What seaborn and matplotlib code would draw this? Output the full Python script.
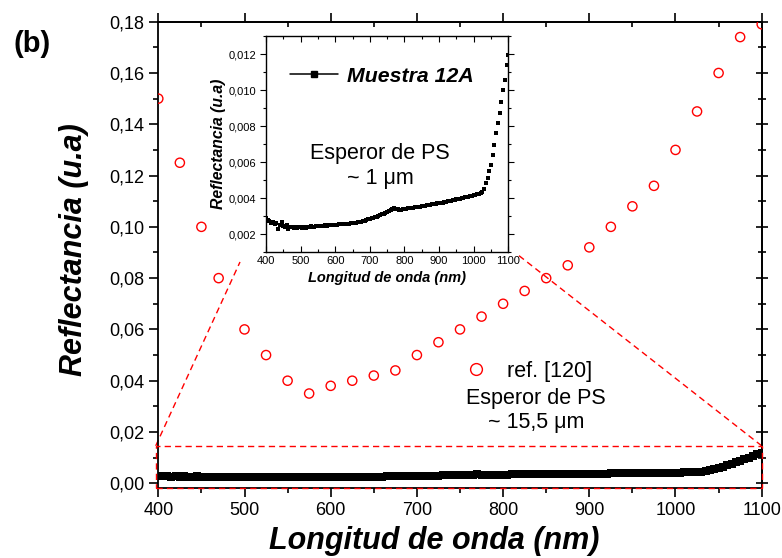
import numpy as np
import pandas as pd
import seaborn as sns
import matplotlib
matplotlib.use("Agg")
import matplotlib.pyplot as plt
from matplotlib.ticker import MultipleLocator, FuncFormatter
from matplotlib.lines import Line2D
from matplotlib.patches import Rectangle

# Reference spectrum, ref. [120] (PS thickness ~15.5 um)
ref_wavelength = [400, 425, 450, 470, 500, 525, 550, 575, 600, 625, 650, 675, 700, 725,
                  750, 775, 800, 825, 850, 875, 900, 925, 950, 975, 1000, 1025, 1050,
                  1075, 1100]
ref_reflectance = [0.150, 0.125, 0.100, 0.080, 0.060, 0.050, 0.040, 0.035, 0.038, 0.040,
                   0.042, 0.044, 0.050, 0.055, 0.060, 0.065, 0.070, 0.075, 0.080, 0.085,
                   0.092, 0.100, 0.108, 0.116, 0.130, 0.145, 0.160, 0.174, 0.179]

# Sample 12A spectrum (PS thickness ~1 um), 5 nm steps
sample_wavelength = list(range(400, 1101, 5))
sample_reflectance = [
    0.00290, 0.00280, 0.00272, 0.00262, 0.00270, 0.00255, 0.00265, 0.00232, 0.00250, 0.00268,
    0.00245, 0.00240, 0.00252, 0.00232, 0.00242, 0.00238, 0.00235, 0.00242, 0.00236, 0.00240,
    0.00238, 0.00235, 0.00240, 0.00237, 0.00241, 0.00240, 0.00244, 0.00242, 0.00243, 0.00245,
    0.00244, 0.00247, 0.00245, 0.00247, 0.00249, 0.00248, 0.00250, 0.00251, 0.00250, 0.00252,
    0.00253, 0.00252, 0.00255, 0.00256, 0.00255, 0.00257, 0.00258, 0.00258, 0.00259, 0.00260,
    0.00261, 0.00263, 0.00264, 0.00266, 0.00268, 0.00270, 0.00273, 0.00276, 0.00279, 0.00282,
    0.00285, 0.00288, 0.00292, 0.00295, 0.00298, 0.00302, 0.00306, 0.00310, 0.00314, 0.00318,
    0.00322, 0.00327, 0.00334, 0.00342, 0.00345, 0.00342, 0.00338, 0.00336, 0.00337, 0.00339,
    0.00340, 0.00342, 0.00343, 0.00345, 0.00346, 0.00347, 0.00349, 0.00350, 0.00352, 0.00354,
    0.00355, 0.00357, 0.00359, 0.00360, 0.00362, 0.00364, 0.00366, 0.00367, 0.00369, 0.00371,
    0.00372, 0.00374, 0.00376, 0.00378, 0.00380, 0.00382, 0.00385, 0.00387, 0.00389, 0.00391,
    0.00393, 0.00396, 0.00398, 0.00400, 0.00402, 0.00405, 0.00407, 0.00409, 0.00411, 0.00413,
    0.00416, 0.00418, 0.00421, 0.00424, 0.00428, 0.00434, 0.00449, 0.00486, 0.00513, 0.00550,
    0.00587, 0.00642, 0.00697, 0.00762, 0.00817, 0.00872, 0.00936, 0.01001, 0.01056, 0.01139,
    0.01194,
]

ref_df = pd.DataFrame({"wl": ref_wavelength, "R": ref_reflectance})
sample_df = pd.DataFrame({"wl": sample_wavelength, "R": sample_reflectance})

sns.set_style("ticks")
plt.rcParams["font.family"] = ["Liberation Sans", "DejaVu Sans"]
for key in ("text.color", "axes.labelcolor", "xtick.color", "ytick.color", "axes.edgecolor"):
    plt.rcParams[key] = "black"

comma2 = FuncFormatter(lambda v, _: f"{v:.2f}".replace(".", ","))
comma3 = FuncFormatter(lambda v, _: f"{v:.3f}".replace(".", ","))
intfmt = FuncFormatter(lambda v, _: f"{v:.0f}")

W, H = 782, 558
fig = plt.figure(figsize=(W / 100, H / 100), dpi=100)

# ---------------- main axes ----------------
ax = fig.add_axes([158.3 / W, 1 - 488.4 / H, 603.4 / W, (488.4 - 21.7) / H])
sns.scatterplot(data=ref_df, x="wl", y="R", ax=ax, marker="o", s=44,
                facecolor="none", edgecolor="red", linewidth=1.0, zorder=3)
sns.scatterplot(data=sample_df, x="wl", y="R", ax=ax, marker="s", s=32,
                color="black", linewidth=0, zorder=4)
ax.set_xlim(400, 1100)
ax.set_ylim(-0.002, 0.18)
ax.set_xlabel("")
ax.set_ylabel("")
ax.xaxis.set_major_locator(MultipleLocator(100))
ax.xaxis.set_minor_locator(MultipleLocator(50))
ax.yaxis.set_major_locator(MultipleLocator(0.02))
ax.yaxis.set_minor_locator(MultipleLocator(0.01))
ax.xaxis.set_major_formatter(intfmt)
ax.yaxis.set_major_formatter(comma2)
for s in ax.spines.values():
    s.set_linewidth(1.3)
    s.set_visible(True)
ax.tick_params(which="major", direction="out", length=6.5, width=1.2,
               labelsize=13, pad=3.5, colors="black")
ax.tick_params(which="minor", direction="out", length=3.5, width=1.2)

top = ax.secondary_xaxis("top")
top.xaxis.set_major_locator(MultipleLocator(100))
top.xaxis.set_minor_locator(MultipleLocator(50))
top.tick_params(which="major", direction="out", length=6.5, width=1.2, labeltop=False)
top.tick_params(which="minor", direction="in", length=3.5, width=1.2)
top.spines["top"].set_linewidth(1.3)

right = ax.secondary_yaxis("right")
right.yaxis.set_major_locator(MultipleLocator(0.02))
right.yaxis.set_minor_locator(MultipleLocator(0.01))
right.tick_params(which="major", direction="inout", length=8, width=1.2, labelright=False)
right.tick_params(which="minor", direction="inout", length=6, width=1.2)
right.spines["right"].set_linewidth(1.3)

fig.text(434 / W, 1 - 541 / H, "Longitud de onda (nm)", ha="center", va="center",
         fontsize=22, fontweight="bold", fontstyle="italic")
fig.text(74 / W, 1 - 250 / H, "Reflectancia (u.a)", ha="center", va="center",
         rotation=90, fontsize=22, fontweight="bold", fontstyle="italic")
fig.text(32 / W, 1 - 44 / H, "(b)", ha="center", va="center",
         fontsize=21, fontweight="bold")

# zoom box around the sample curve and its guide lines
dash = (0, (4.5, 3))
ax.add_patch(Rectangle((397, -0.0018), 703, 0.0164, fill=False, edgecolor="red",
                       linewidth=1.0, linestyle=dash, clip_on=False, zorder=5))
ax.plot([397, 494.8], [0.0146, 0.0863], color="red", lw=1.0, ls=dash, clip_on=False)
ax.plot([1100, 816], [0.0146, 0.0894], color="red", lw=1.0, ls=dash, clip_on=False)

ref_handle = Line2D([], [], marker="o", ls="", mfc="none", mec="red", ms=8.5, mew=1.0)
leg = ax.legend(handles=[ref_handle], labels=["ref. [120]"], loc="center left",
                bbox_to_anchor=(465 / W, 1 - 371 / H), bbox_transform=fig.transFigure,
                frameon=False, fontsize=15.5, handlelength=1.0, handletextpad=0.93,
                borderpad=0, borderaxespad=0)
fig.text(536 / W, 1 - 410.5 / H, "Esperor de PS\n~ 15,5 μm", ha="center", va="center",
         fontsize=15.5, linespacing=1.2)

# ---------------- inset ----------------
axin = fig.add_axes([266 / W, 1 - 252.3 / H, 242.3 / W, 216.3 / H])
axin.set_facecolor("white")
sns.scatterplot(data=sample_df, x="wl", y="R", ax=axin, marker="s", s=10,
                color="black", linewidth=0)
axin.set_xlim(400, 1100)
axin.set_ylim(0.001, 0.013)
axin.set_xlabel("Longitud de onda (nm)", fontsize=10.5, fontweight="bold",
                fontstyle="italic", labelpad=3)
axin.set_ylabel("Reflectancia (u.a)", fontsize=11.3, fontweight="bold",
                fontstyle="italic", labelpad=2)
axin.xaxis.set_major_locator(MultipleLocator(100))
axin.xaxis.set_minor_locator(MultipleLocator(50))
axin.yaxis.set_major_locator(MultipleLocator(0.002))
axin.yaxis.set_minor_locator(MultipleLocator(0.001))
axin.xaxis.set_major_formatter(intfmt)
axin.yaxis.set_major_formatter(comma3)
for s in axin.spines.values():
    s.set_linewidth(1.0)
    s.set_visible(True)
axin.tick_params(axis="both", which="both", direction="in", top=True, right=True,
                 width=0.8, labelsize=8, pad=3)
axin.tick_params(which="major", length=4)
axin.tick_params(which="minor", length=2.5)
axin.tick_params(axis="y", which="both", direction="out")

sample_handle = Line2D([], [], marker="s", color="black", lw=1.1, ms=5)
axin.legend(handles=[sample_handle], labels=["Muestra 12A"], loc="center left",
            bbox_to_anchor=(290 / W, 1 - 76 / H), bbox_transform=fig.transFigure,
            frameon=False, handlelength=2.26, handletextpad=0.42, borderpad=0,
            borderaxespad=0, prop={"size": 15.3, "weight": "bold", "style": "italic"})
axin.text(0.4705, 0.399, "Esperor de PS\n~ 1 μm", transform=axin.transAxes,
          ha="center", va="center", fontsize=15.5, linespacing=1.3)

fig.savefig("out.png", dpi=100)
